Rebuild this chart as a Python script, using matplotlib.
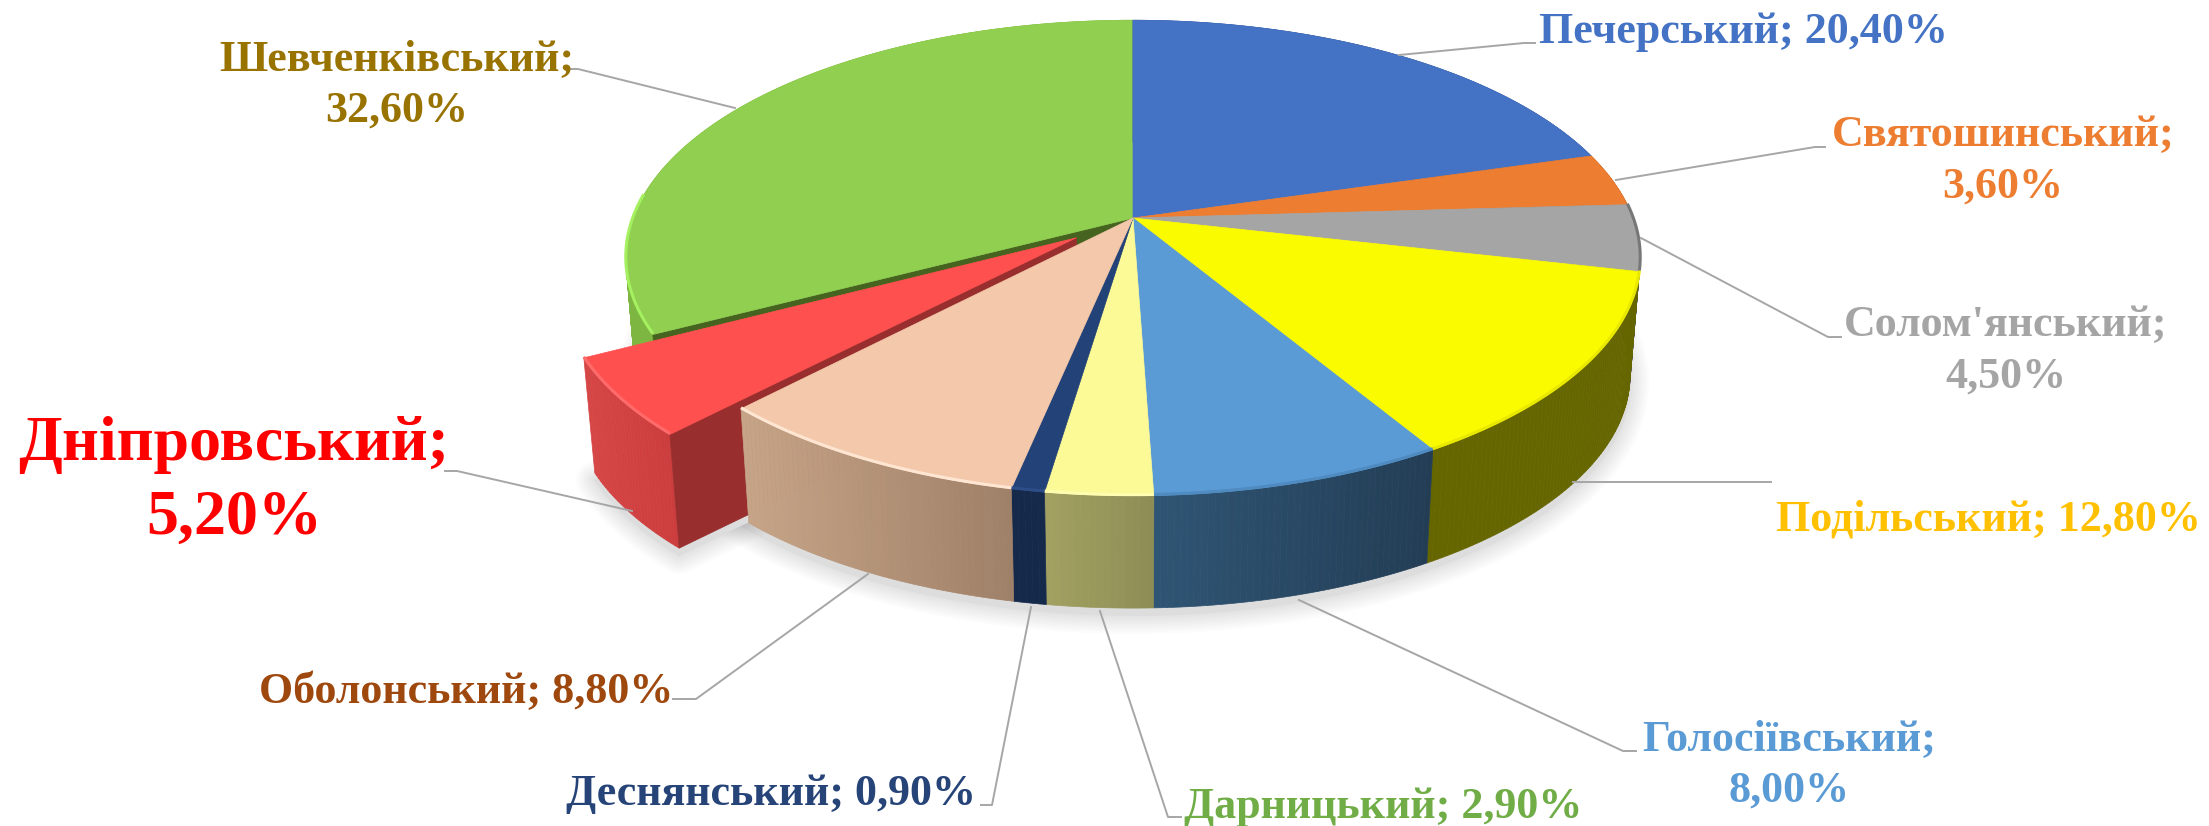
import numpy as np
import matplotlib
matplotlib.use("Agg")
import matplotlib.pyplot as plt
from matplotlib.colors import to_rgb

districts = ["Печерський", "Святошинський", "Солом'янський", "Подільський", "Голосіївський",
             "Дарницький", "Деснянський", "Оболонський", "Дніпровський", "Шевченківський"]
shares = [20.4, 3.6, 4.5, 12.8, 8.0, 2.9, 0.9, 8.8, 5.2, 32.6]
top_colors = ["#4472C4", "#ED7D31", "#A5A5A5", "#FBFB00", "#5B9BD5",
              "#FBFA96", "#234278", "#F4C8AA", "#FF5050", "#90CF50"]
side_left = ["#2D4C84", "#A0521F", "#555555", "#666600", "#2F5574",
             "#A3A262", "#15294B", "#C6A487", "#D64545", "#7DB640"]
side_right = ["#2D4C84", "#A0521F", "#555555", "#666600", "#233D55",
              "#8D8C55", "#15294B", "#9F8068", "#CC3D3D", "#7DB640"]
rim_colors = [None, None, "#777777", "#E8E800", "#4F8AC0",
              "#FFFDB0", "#2C4D88", "#FFE6D2", "#FF6A6A", "#A5F060"]
label_colors = ["#4472C4", "#ED7D31", "#A5A5A5", "#FFC000", "#5B9BD5",
                "#70AD47", "#264478", "#9E480E", "#FF0000", "#997300"]
label_texts = ["Печерський; 20,40%", "Святошинський;\n3,60%", "Солом'янський;\n4,50%",
               "Подільський; 12,80%", "Голосіївський;\n8,00%", "Дарницький; 2,90%",
               "Деснянський; 0,90%", "Оболонський; 8,80%", "Дніпровський;\n5,20%",
               "Шевченківський;\n32,60%"]
label_xy = [(1743, 32), (2003, 161), (2006, 351), (1988, 520), (1789, 765),
            (1383, 807), (771, 794), (466, 692), (234, 482), (397, 85)]
label_px = [44, 44, 44, 44, 44, 44, 44, 44, 64, 44]
leaders = [
    [(1399, 55), (1524, 43), (1535, 43)],
    [(1616, 180), (1815, 147), (1825, 147)],
    [(1641, 238), (1828, 337), (1841, 337)],
    [(1573, 482), (1771, 482)],
    [(1299, 600), (1623, 751), (1636, 751)],
    [(1100, 611), (1168, 817), (1181, 817)],
    [(1031, 607), (992, 805), (981, 805)],
    [(868, 574), (696, 699), (673, 699)],
    [(632, 511), (457, 471), (445, 471)],
    [(735, 108), (578, 69), (565, 69)],
]
exploded = "Дніпровський"

CX, CY, RX, RY, K = 1133.0, 218.0, 500.0, 231.0, 0.168
DEPTH, SHRINK, EXPLODE = 118.0, 0.98, 0.14


def project(u, v, bottom=False):
    d = 1 + K * v
    s = SHRINK if bottom else 1.0
    return CX + s * RX * u / d, CY + (DEPTH if bottom else 0) - s * RY * v / d


fig = plt.figure(figsize=(22.09, 8.26), dpi=100)
ax = fig.add_axes([0, 0, 1, 1])
ax.set_xlim(0, 2209)
ax.set_ylim(826, 0)
ax.axis("off")

vals = np.array(shares, float)
edges = np.concatenate([[0], np.cumsum(vals)]) / vals.sum() * 2 * np.pi


def geometry(i):
    a0, a1 = edges[i], edges[i + 1]
    off = np.array([0.0, 0.0])
    if districts[i] == exploded:
        m = (a0 + a1) / 2
        off = EXPLODE * np.array([np.sin(m), np.cos(m)])
    th = np.linspace(a0, a1, max(6, int((a1 - a0) * 90)))
    return th, np.sin(th) + off[0], np.cos(th) + off[1], off


def draw_shadow():
    th = np.linspace(0, 2 * np.pi, 400)
    order = [(np.sin(th), np.cos(th))]
    g = [i for i, d in enumerate(districts) if d == exploded]
    for i in g:
        _, u, v, off = geometry(i)
        order.append((np.r_[off[0], u], np.r_[off[1], v]))
    for u, v in order:
        x, y = project(u, v, bottom=True)
        y = y + 7
        for lw in np.linspace(38, 2, 10):
            ax.plot(np.r_[x, x[0]], np.r_[y, y[0]], color="#000000", alpha=0.012, lw=lw * 0.72,
                    zorder=1, solid_joinstyle="round")
        ax.fill(x, y, color="#DDDDDD", zorder=1)


def draw_side(i, z):
    th, u, v, off = geometry(i)
    xt, yt = project(u, v)
    xb, yb = project(u, v, bottom=True)
    c0, c1 = np.array(to_rgb(side_left[i])), np.array(to_rgb(side_right[i]))
    xmin, xmax = xt.min(), xt.max()
    for j in range(len(th) - 1):
        t = ((xt[j] + xt[j + 1]) / 2 - xmin) / max(xmax - xmin, 1)
        col = c0 + (c1 - c0) * t
        ax.fill([xt[j], xt[j + 1], xb[j + 1], xb[j]], [yt[j], yt[j + 1], yb[j + 1], yb[j]],
                facecolor=col, edgecolor=col, lw=0.5, zorder=z)


def draw_cut(i, idx, color, z):
    th, u, v, off = geometry(i)
    xa, ya = project(off[0], off[1])
    xab, yab = project(off[0], off[1], bottom=True)
    xt, yt = project(u[idx], v[idx])
    xb, yb = project(u[idx], v[idx], bottom=True)
    ax.fill([xa, xt, xb, xab], [ya, yt, yb, yab], facecolor=color, edgecolor=color, lw=0.5, zorder=z)


def draw_top(i, z):
    th, u, v, off = geometry(i)
    xa, ya = project(off[0], off[1])
    x, y = project(u, v)
    ax.fill(np.r_[xa, x], np.r_[ya, y], facecolor=top_colors[i], edgecolor=top_colors[i], lw=0.5, zorder=z)
    # bevelled rim, front of the pie only
    mask = np.cos(th) < 0.1
    if rim_colors[i] and mask.sum() > 1:
        ax.plot(x[mask], y[mask] - 1, color=rim_colors[i], lw=2.2, zorder=z + 0.1,
                solid_capstyle="butt")


draw_shadow()
z = 2.0
ix = districts.index(exploded)
last = len(districts) - 1
# rear slice with the gap beside the pulled-out slice
draw_side(last, z)
draw_cut(last, 0, "#46631F", z + 0.1)
draw_top(last, z + 0.2)
# pulled-out slice
draw_side(ix, z + 0.4)
draw_cut(ix, 0, "#982E2E", z + 0.5)
draw_top(ix, z + 0.6)
# remaining slices
others = [i for i in range(len(districts)) if i not in (ix, last)]
for i in others:
    draw_side(i, 3.0)
for i in others:
    draw_top(i, 3.5)

for pts in leaders:
    ax.plot(*zip(*pts), color="#A6A6A6", lw=1.4, zorder=4)
for t, (x, y), c, px in zip(label_texts, label_xy, label_colors, label_px):
    ax.text(x, y, t, color=c, fontsize=px * 0.72, family="Liberation Serif", weight="bold",
            ha="center", va="center", linespacing=1.36, zorder=5)

fig.savefig("out.png", dpi=100, facecolor="white")
